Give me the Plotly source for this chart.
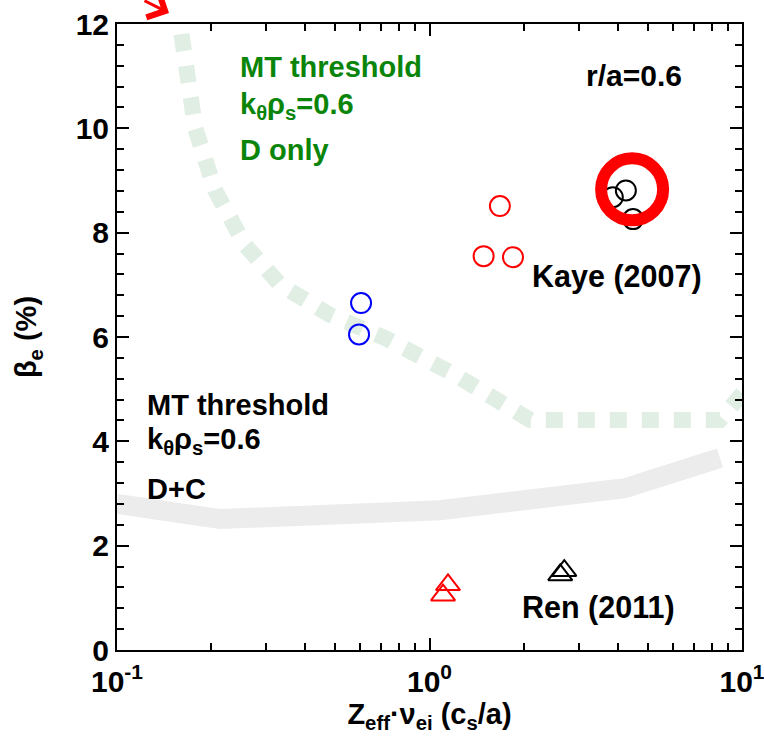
import plotly.graph_objects as go

# ---- data ----
green_x = [0.152, 0.159, 0.178, 0.206, 0.257, 0.333, 0.481, 0.721, 1.21, 1.68, 2.10, 8.5, 10.3]
green_y = [12.4, 12.0, 10.0, 8.81, 7.76, 7.00, 6.42, 5.98, 5.27, 4.79, 4.41, 4.41, 5.0]

gray_x = [0.1, 0.214, 1.08, 4.22, 8.5]
gray_y = [2.80, 2.51, 2.68, 3.10, 3.68]

red_circ_x = [1.68, 1.49, 1.85]
red_circ_y = [8.51, 7.55, 7.53]

blue_circ_x = [0.604, 0.595]
blue_circ_y = [6.65, 6.05]

black_circ_x = [3.86, 4.25, 4.48]
black_circ_y = [8.68, 8.81, 8.26]

ring_x = [4.45]
ring_y = [8.83]

red_tri_x = [1.146, 1.105]
red_tri_y = [1.25, 1.05]

black_tri_x = [2.70, 2.62]
black_tri_y = [1.52, 1.44]

x_tickvals = [0.1, 1, 10]
x_ticktext = ["10<sup>-1</sup>", "10<sup>0</sup>", "10<sup>1</sup>"]
x_minor = [m * d for d in (0.1, 1) for m in range(2, 10)]
y_tickvals = [0, 2, 4, 6, 8, 10, 12]

FONT = "Liberation Sans, Arial, sans-serif"
GREEN_TXT = "#0a850a"
FS = 29

fig = go.Figure()
fig.add_trace(go.Scatter(x=green_x, y=green_y, mode="lines",
                         line=dict(color="#e1eee4", width=16, dash="17px,15px"),
                         hoverinfo="skip"))
fig.add_trace(go.Scatter(x=gray_x, y=gray_y, mode="lines",
                         line=dict(color="#ececec", width=20), hoverinfo="skip"))
fig.add_trace(go.Scatter(x=red_circ_x, y=red_circ_y, mode="markers",
                         marker=dict(symbol="circle-open", size=20, color="red",
                                     line=dict(width=2, color="red"))))
fig.add_trace(go.Scatter(x=blue_circ_x, y=blue_circ_y, mode="markers",
                         marker=dict(symbol="circle-open", size=20, color="blue",
                                     line=dict(width=2, color="blue"))))
fig.add_trace(go.Scatter(x=black_circ_x, y=black_circ_y, mode="markers",
                         marker=dict(symbol="circle-open", size=20, color="black",
                                     line=dict(width=2, color="black"))))
fig.add_trace(go.Scatter(x=ring_x, y=ring_y, mode="markers",
                         marker=dict(symbol="circle-open", size=62, color="red",
                                     line=dict(width=12, color="red"))))
fig.add_trace(go.Scatter(x=red_tri_x, y=red_tri_y, mode="markers",
                         marker=dict(symbol="triangle-up-open", size=21, color="red",
                                     line=dict(width=2, color="red"))))
fig.add_trace(go.Scatter(x=black_tri_x, y=black_tri_y, mode="markers",
                         marker=dict(symbol="triangle-up-open", size=21, color="black",
                                     line=dict(width=2, color="black"))))

def px2paper(px, py):
    return (px - 117) / 625.0, (650 - py) / 626.0

texts = [
    ("MT threshold", 238, 67, GREEN_TXT, 29),
    ("k<sub>θ</sub>ρ<sub>s</sub>=0.6", 238, 106, GREEN_TXT, 29),
    ("D only", 238, 150, GREEN_TXT, 29),
    ("MT threshold", 145, 405, "black", 29),
    ("k<sub>θ</sub>ρ<sub>s</sub>=0.6", 145, 441, "black", 29),
    ("D+C", 145, 489, "black", 29),
    ("r/a=0.6", 584, 76, "black", 30),
    ("Kaye (2007)", 530, 276, "black", 30.5),
    ("Ren (2011)", 520, 607, "black", 30.5),
]
annos = []
for t, px, py, c, s in texts:
    xp, yp = px2paper(px, py)
    annos.append(dict(text=t, x=xp, y=yp, xref="paper", yref="paper",
                      xanchor="left", yanchor="middle", showarrow=False,
                      font=dict(family=FONT, size=s, color=c, weight="bold")))
# red arrow pointing into plot from the top-left
tx, ty = px2paper(169, 13)
annos.append(dict(x=tx, y=ty, xref="paper", yref="paper", text="",
                  showarrow=True, arrowhead=4, arrowsize=1.8, arrowwidth=3,
                  arrowcolor="red", ax=-26, ay=-20))

fig.update_layout(
    width=764, height=739,
    margin=dict(l=117, r=22, t=24, b=89),
    paper_bgcolor="white", plot_bgcolor="white",
    showlegend=False,
    font=dict(family=FONT, size=FS, color="black", weight="bold"),
    annotations=annos,
)
fig.update_xaxes(type="log", range=[-1, 1], tickmode="array",
                 tickvals=x_tickvals, ticktext=x_ticktext, automargin=False,
                 tickfont=dict(size=30), ticklabeloverflow="allow",
                 ticklabelstandoff=4,
                 ticks="inside", ticklen=12, tickwidth=2, tickcolor="black",
                 minor=dict(tickmode="array", tickvals=x_minor, ticks="inside",
                            ticklen=7, tickwidth=2, tickcolor="black"),
                 showline=True, linewidth=2, linecolor="black", mirror="ticks",
                 showgrid=False, zeroline=False,
                 title=dict(text="Z<sub>eff</sub>·ν<sub>ei</sub> (c<sub>s</sub>/a)",
                            standoff=0, font=dict(size=FS)))
fig.update_yaxes(range=[0, 12], tickmode="array", tickvals=y_tickvals, automargin=False,
                 tickfont=dict(size=30), ticklabeloverflow="allow",
                 ticks="inside", ticklen=12, tickwidth=2, tickcolor="black",
                 minor=dict(dtick=0.4, tick0=0, ticks="inside",
                            ticklen=7, tickwidth=2, tickcolor="black"),
                 showline=True, linewidth=2, linecolor="black", mirror="ticks",
                 showgrid=False, zeroline=False,
                 title=dict(text="β<sub>e</sub> (%)", standoff=30, font=dict(size=FS)))

fig.write_html("out.html", config={"displayModeBar": False},
               post_script="document.body.style.margin='0';document.body.style.padding='0';")
